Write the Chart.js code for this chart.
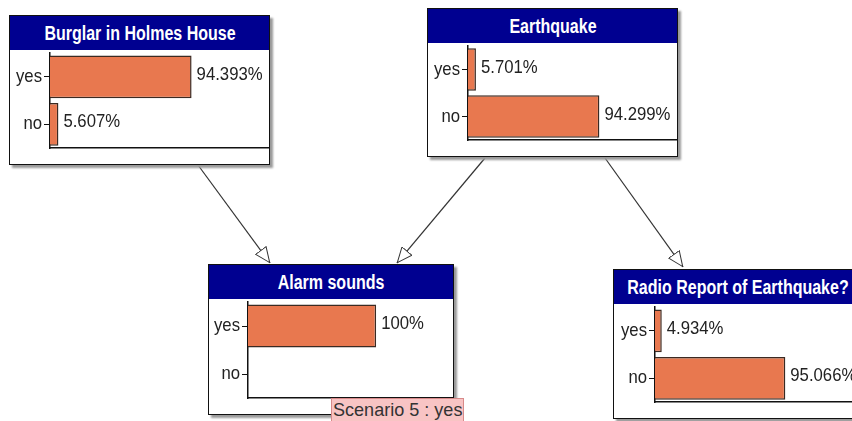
<!DOCTYPE html>
<html>
<head>
<meta charset="utf-8">
<script src="https://cdn.jsdelivr.net/npm/chart.js@4.4.1/dist/chart.umd.min.js"></script>
<style>
  html, body { margin: 0; padding: 0; background: #fff; }
  body { width: 852px; height: 421px; position: relative; overflow: hidden;
         font-family: "Liberation Sans", Arial, sans-serif; }
  .node { position: absolute; box-sizing: border-box; border: 1px solid #111; background: #fff;
          box-shadow: 3px 3px 2px #9a9a9a; }
  .node .title { position: absolute; left: 0; top: 0; right: 0; background: #000090; color: #fff;
                 overflow: hidden; }
  .node .title span { position: absolute; left: 50%; top: 50%; white-space: nowrap;
                      font-weight: bold; font-size: 20px; transform: translate(-50%, -50%) scaleX(0.8); }
  .node canvas { position: absolute; left: 0; }
  #arrows { position: absolute; left: 0; top: 0; }
  #scenario { position: absolute; left: 331px; top: 398px; width: 133px; height: 26px; box-sizing: border-box;
              background: #f8c4c4; border: 1px solid #d88a8a; color: #333; overflow: hidden; }
  #scenario span { position: absolute; left: 1px; top: 0; font-size: 19px; line-height: 21px; white-space: nowrap;
                   transform: scaleX(0.95); transform-origin: 0 0; }
</style>
</head>
<body>
<svg id="arrows" width="852" height="421">
  <defs>
    <marker id="head" viewBox="0 0 16 14" refX="16" refY="7" markerWidth="16" markerHeight="14"
            markerUnits="userSpaceOnUse" orient="auto">
      <path d="M0.5,0.5 L15.5,7 L0.5,13.5 Z" fill="#fff" stroke="#333" stroke-width="1"/>
    </marker>
  </defs>
  <line x1="198" y1="165" x2="270" y2="263" stroke="#333" stroke-width="1.2" marker-end="url(#head)"/>
  <line x1="485" y1="158" x2="397" y2="263" stroke="#333" stroke-width="1.2" marker-end="url(#head)"/>
  <line x1="605" y1="158" x2="683" y2="267" stroke="#333" stroke-width="1.2" marker-end="url(#head)"/>
</svg>
<div id="net"></div>
<div id="scenario"><span>Scenario 5 : yes</span></div>
<script>
// states and beliefs (percent)
const states = ['yes', 'no'];
const nodeTitles = ['Burglar in Holmes House', 'Earthquake', 'Alarm sounds', 'Radio Report of Earthquake?'];
const burglarPct = [94.393, 5.607];
const earthquakePct = [5.701, 94.299];
const alarmPct = [100, 0];
const radioPct = [4.934, 95.066];

const barFill = '#e8784f';
const fontFamily = '"Liberation Sans", Arial, sans-serif';
const fontSize = 19;
const squeeze = 0.88; // the original uses a narrow face
const tickLen = 6;

// box layout for each node
const nodes = [
  { title: nodeTitles[0], values: burglarPct, left: 9, top: 15, width: 261, height: 150, axisW: 40, xMax: 146 },
  { title: nodeTitles[1], values: earthquakePct, left: 427, top: 8, width: 251, height: 149, axisW: 40, xMax: 150 },
  { title: nodeTitles[2], values: alarmPct, left: 208, top: 264, width: 246, height: 151, axisW: 39, xMax: 160 },
  { title: nodeTitles[3], values: radioPct, left: 613, top: 269, width: 250, height: 150, axisW: 41, xMax: 151 }
];

function narrowText(ctx, str, x, y, align) {
  ctx.save();
  ctx.translate(x, y);
  ctx.scale(squeeze, 1);
  ctx.textAlign = align;
  ctx.fillText(str, 0, 0);
  ctx.restore();
}

// category names next to the y ticks, and the belief values after each bar
const narrowLabels = {
  id: 'narrowLabels',
  afterDatasetsDraw(chart) {
    const ctx = chart.ctx;
    const yScale = chart.scales.y;
    const meta = chart.getDatasetMeta(0);
    const vals = chart.data.datasets[0].data;
    ctx.save();
    ctx.font = fontSize + 'px ' + fontFamily;
    ctx.fillStyle = '#222';
    ctx.textBaseline = 'middle';
    yScale.ticks.forEach((t, i) => {
      narrowText(ctx, chart.data.labels[i], chart.chartArea.left - tickLen - 2, yScale.getPixelForTick(i), 'right');
    });
    meta.data.forEach((bar, i) => {
      if (!vals[i]) return;
      narrowText(ctx, vals[i] + '%', bar.x + 5, bar.y - 2, 'left');
    });
    ctx.restore();
  }
};

const titleH = 34;
const net = document.getElementById('net');

nodes.forEach(n => {
  const box = document.createElement('div');
  box.className = 'node';
  box.style.left = n.left + 'px';
  box.style.top = n.top + 'px';
  box.style.width = n.width + 'px';
  box.style.height = n.height + 'px';
  const t = document.createElement('div');
  t.className = 'title';
  t.style.height = titleH + 'px';
  const ts = document.createElement('span');
  ts.textContent = n.title;
  t.appendChild(ts);
  box.appendChild(t);
  const cv = document.createElement('canvas');
  const cw = n.width - 2, ch = n.height - 2 - titleH;
  cv.width = cw; cv.height = ch;
  cv.style.width = cw + 'px'; cv.style.height = ch + 'px';
  cv.style.top = titleH + 'px';
  box.appendChild(cv);
  net.appendChild(box);

  new Chart(cv, {
    type: 'bar',
    data: {
      labels: states,
      datasets: [{
        data: n.values,
        backgroundColor: barFill,
        borderColor: '#3b2a22',
        borderWidth: 1.5,
        barPercentage: 0.9,
        categoryPercentage: 1
      }]
    },
    options: {
      indexAxis: 'y',
      responsive: false,
      animation: false,
      devicePixelRatio: 1,
      layout: { padding: { top: 3, right: 0, bottom: 16, left: 0 } },
      plugins: { legend: { display: false }, tooltip: { enabled: false } },
      scales: {
        x: {
          min: 0, max: n.xMax,
          ticks: { display: false },
          grid: { display: false },
          border: { color: '#111', width: 1.5 },
          afterFit: s => { s.height = 0; s.paddingLeft = 0; s.paddingRight = 0; }
        },
        y: {
          ticks: { display: false },
          grid: { display: true, offset: false, drawOnChartArea: false, tickLength: tickLen, color: '#111' },
          border: { color: '#111', width: 1.5 },
          afterFit: s => { s.width = n.axisW; s.paddingTop = 0; s.paddingBottom = 0; }
        }
      }
    },
    plugins: [narrowLabels]
  });
});
</script>
</body>
</html>
